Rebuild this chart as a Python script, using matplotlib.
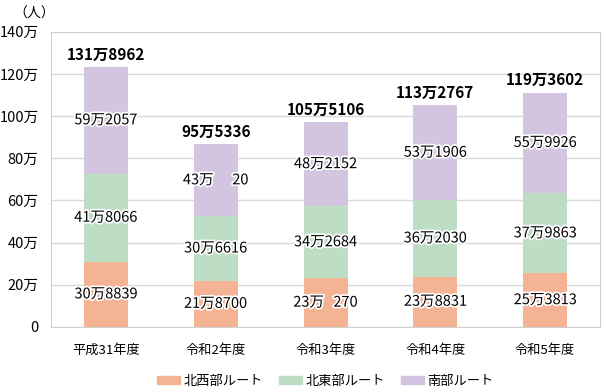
import matplotlib.pyplot as plt
import matplotlib.patheffects as pe
from matplotlib.patches import Patch

plt.rcParams['font.family'] = ['Noto Sans CJK JP', 'DejaVu Sans']

years = ["平成31年度", "令和2年度", "令和3年度", "令和4年度", "令和5年度"]
series = ["北西部ルート", "北東部ルート", "南部ルート"]
# passenger counts shown in the labels
northwest = [308839, 218700, 230270, 238831, 253813]
northeast = [418066, 306616, 342684, 362030, 379863]
south = [592057, 430020, 482152, 531906, 559926]
totals = [1318962, 955336, 1055106, 1132767, 1193602]
# the purple segment as it is drawn in the source is shorter than its label
south_drawn = [506000, 340000, 398000, 451000, 478000]

colors = ["#F4B393", "#BDDDC5", "#D3C5E0"]


def fmt(v):
    man, rest = divmod(v, 10000)
    s = str(rest).rjust(4, "\u2007")
    return f"{man}万{s}"


fig = plt.figure(figsize=(6.06, 3.92), dpi=100)
ax = fig.add_axes([0.0842, 0.166, 0.906, 0.753])

x = list(range(len(years)))
w = 0.4
bottom2 = northwest
bottom3 = [a + b for a, b in zip(northwest, northeast)]
ax.bar(x, northwest, w, color=colors[0], zorder=2)
ax.bar(x, northeast, w, bottom=bottom2, color=colors[1], zorder=2)
ax.bar(x, south_drawn, w, bottom=bottom3, color=colors[2], zorder=2)

stroke = [pe.withStroke(linewidth=2.5, foreground="white")]
for i in x:
    segs = [(0, northwest[i], northwest[i]),
            (bottom2[i], northeast[i], northeast[i]),
            (bottom3[i], south_drawn[i], south[i])]
    for b, h, lab in segs:
        ax.text(i, b + h / 2, fmt(lab), ha="center", va="center",
                fontsize=10.5, color="black", path_effects=stroke, zorder=3)
    top = bottom3[i] + south_drawn[i]
    ax.annotate(fmt(totals[i]), (i, top), xytext=(0, 3), textcoords="offset points",
                ha="center", va="bottom", fontsize=11, fontweight="bold")

ax.set_xlim(-0.5, 4.5)
ax.set_ylim(0, 1400000)
yt = list(range(0, 1400001, 200000))
ax.set_yticks(yt)
ax.set_yticklabels(["0"] + [f"{v // 10000}万" for v in yt[1:]], fontsize=10.5)
ax.set_xticks(x)
ax.set_xticklabels(years, fontsize=9.5)
ax.tick_params(length=0)
ax.tick_params(axis="x", pad=12)
ax.tick_params(axis="y", pad=9)
ax.grid(axis="y", color="#D9D9D9", linewidth=1, zorder=1)
for s in ax.spines.values():
    s.set_color("#D0D0D0")

fig.text(0.022, 0.965, "（人）", fontsize=10, va="center", ha="left")

handles = [Patch(color=c) for c in colors]
fig.legend(handles, series, loc="center", bbox_to_anchor=(0.537, 0.028), ncol=3,
           frameon=False, fontsize=9.5, handlelength=1.75, handleheight=0.5,
           columnspacing=1.2, handletextpad=0.25)

fig.savefig("out.png", dpi=100)
